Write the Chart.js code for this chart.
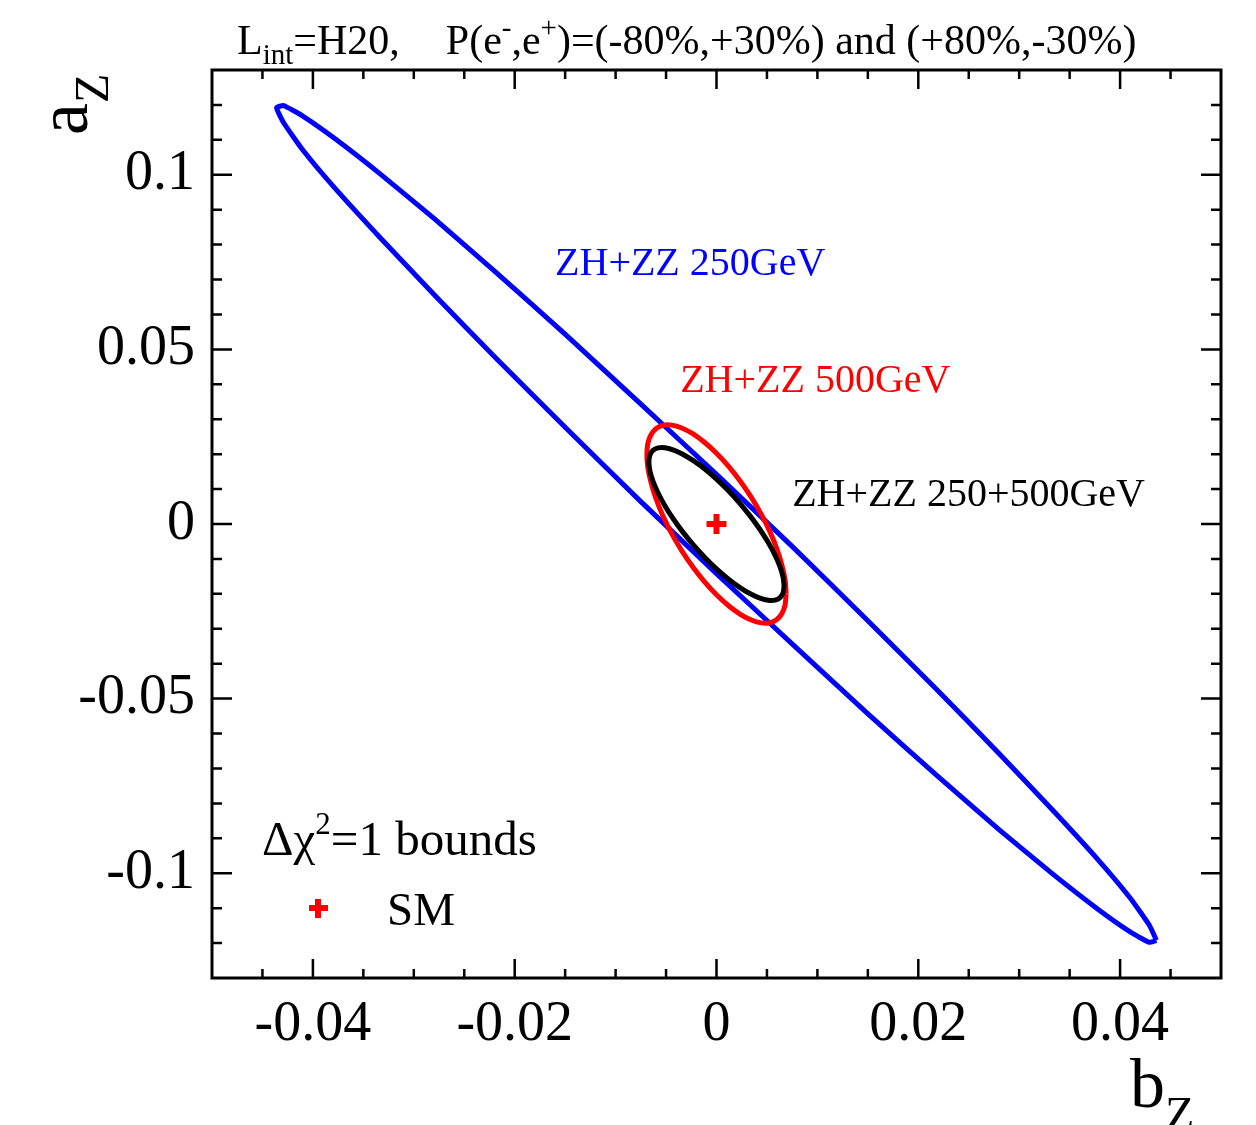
<!DOCTYPE html>
<html>
<head>
<meta charset="utf-8">
<script src="https://cdn.jsdelivr.net/npm/chart.js@4.4.0/dist/chart.umd.min.js"></script>
<style>
html, body { margin: 0; padding: 0; background: #fff; }
#wrap { width: 1256px; height: 1125px; position: relative; }
</style>
</head>
<body>
<div id="wrap"><canvas id="chart" width="1256" height="1125"></canvas></div>
<script>
// contour points (b_Z, a_Z)
const blueB = [0.0436, 0.0429, 0.0410, 0.0378, 0.0334, 0.0280, 0.0218, 0.0149, 0.0076, 0, -0.0076, -0.0149, -0.0218, -0.0280, -0.0334, -0.0378, -0.0410, -0.0429, -0.0436, -0.0429, -0.0410, -0.0378, -0.0334, -0.0280, -0.0218, -0.0149, -0.0076, 0, 0.0076, 0.0149, 0.0218, 0.0280, 0.0334, 0.0378, 0.0410, 0.0429, 0.0436];
const blueA = [-0.1192, -0.1149, -0.1071, -0.0961, -0.0822, -0.0657, -0.0473, -0.0274, -0.0067, 0.0142, 0.0346, 0.0541, 0.0719, 0.0875, 0.1004, 0.1103, 0.1168, 0.1198, 0.1192, 0.1149, 0.1071, 0.0961, 0.0822, 0.0657, 0.0473, 0.0274, 0.0067, -0.0142, -0.0346, -0.0541, -0.0719, -0.0875, -0.1004, -0.1103, -0.1168, -0.1198, -0.1192];

const redB = [0.0069, 0.0068, 0.00648, 0.00598, 0.00529, 0.00444, 0.00345, 0.00236, 0.0012, 0, -0.0012, -0.00236, -0.00345, -0.00444, -0.00529, -0.00598, -0.00648, -0.0068, -0.0069, -0.0068, -0.00648, -0.00598, -0.00529, -0.00444, -0.00345, -0.00236, -0.0012, 0, 0.0012, 0.00236, 0.00345, 0.00444, 0.00529, 0.00598, 0.00648, 0.0068, 0.0069];
const redA = [-0.01988, -0.01606, -0.01175, -0.00708, -0.00219, 0.00276, 0.00762, 0.01226, 0.01652, 0.02028, 0.02342, 0.02586, 0.0275, 0.02831, 0.02826, 0.02736, 0.02562, 0.0231, 0.01988, 0.01606, 0.01175, 0.00708, 0.00219, -0.00276, -0.00762, -0.01226, -0.01652, -0.02028, -0.02342, -0.02586, -0.0275, -0.02831, -0.02826, -0.02736, -0.02562, -0.0231, -0.01988];

const blackB = [0.0067, 0.0066, 0.0063, 0.0058, 0.00513, 0.00431, 0.00335, 0.00229, 0.00116, 0, -0.00116, -0.00229, -0.00335, -0.00431, -0.00513, -0.0058, -0.0063, -0.0066, -0.0067, -0.0066, -0.0063, -0.0058, -0.00513, -0.00431, -0.00335, -0.00229, -0.00116, 0, 0.00116, 0.00229, 0.00335, 0.00431, 0.00513, 0.0058, 0.0063, 0.0066, 0.0067];
const blackA = [-0.01774, -0.01524, -0.01228, -0.00894, -0.00533, -0.00157, 0.00225, 0.006, 0.00957, 0.01284, 0.01573, 0.01813, 0.01999, 0.02124, 0.02184, 0.02178, 0.02106, 0.0197, 0.01774, 0.01524, 0.01228, 0.00894, 0.00533, 0.00157, -0.00225, -0.006, -0.00957, -0.01284, -0.01573, -0.01813, -0.01999, -0.02124, -0.02184, -0.02178, -0.02106, -0.0197, -0.01774];

const smPoint = [{ x: 0, y: 0 }];

const xTickValues = [-0.04, -0.02, 0, 0.02, 0.04];
const xTickLabels = ['-0.04', '-0.02', '0', '0.02', '0.04'];
const yTickValues = [-0.1, -0.05, 0, 0.05, 0.1];
const yTickLabels = ['-0.1', '-0.05', '0', '0.05', '0.1'];

// in-plot labels: text, colour, b_Z, a_Z of left baseline
const curveLabels = ['ZH+ZZ 250GeV', 'ZH+ZZ 500GeV', 'ZH+ZZ 250+500GeV'];
const curveColors = ['#0000ff', '#ff0000', '#000000'];
const labelB = [-0.0160, -0.0036, 0.0075];
const labelA = [0.0712, 0.0378, 0.0052];

const SERIF = '"Liberation Serif", "Times New Roman", serif';

function toPoints(bs, as) {
    return bs.map((b, i) => ({ x: b, y: as[i] }));
}

// draws a row of text pieces with sub/superscripts
function drawRich(ctx, parts, x, y) {
    let cx = x;
    parts.forEach(p => {
        ctx.font = p.size + 'px ' + SERIF;
        ctx.fillText(p.t, cx, y + (p.dy || 0));
        cx += ctx.measureText(p.t).width + (p.gap || 0);
    });
}

const framePlugin = {
    id: 'frameTicks',
    afterDatasetsDraw(chart) {
        const { ctx, chartArea: a } = chart;
        const x = chart.scales.x;
        const y = chart.scales.y;
        ctx.save();
        ctx.strokeStyle = '#000';
        ctx.lineWidth = 2.5;
        ctx.beginPath();
        for (let i = -9; i <= 9; i++) {
            const px = x.getPixelForValue(i * 0.005);
            const len = (i % 4 === 0) ? 19 : 9;
            ctx.moveTo(px, a.bottom); ctx.lineTo(px, a.bottom - len);
            ctx.moveTo(px, a.top); ctx.lineTo(px, a.top + len);
        }
        for (let j = -12; j <= 12; j++) {
            const py = y.getPixelForValue(j * 0.01);
            const len = (j % 5 === 0) ? 20 : 10;
            ctx.moveTo(a.left, py); ctx.lineTo(a.left + len, py);
            ctx.moveTo(a.right, py); ctx.lineTo(a.right - len, py);
        }
        ctx.stroke();
        ctx.lineWidth = 3;
        ctx.strokeRect(a.left, a.top, a.right - a.left, a.bottom - a.top);
        ctx.restore();
    },
    afterDraw(chart) {
        const ctx = chart.ctx;
        const x = chart.scales.x;
        const y = chart.scales.y;
        ctx.save();
        ctx.textBaseline = 'alphabetic';
        ctx.textAlign = 'left';
        ctx.fillStyle = '#000';

        // header
        drawRich(ctx, [
            { t: 'L', size: 42 },
            { t: 'int', size: 29, dy: 10 },
            { t: '=H20,', size: 42, gap: 46 },
            { t: 'P(e', size: 42 },
            { t: '-', size: 29, dy: -17 },
            { t: ',e', size: 42 },
            { t: '+', size: 29, dy: -17 },
            { t: ')=(-80%,+30%) and (+80%,-30%)', size: 42 }
        ], 237, 54);

        // curve labels
        curveLabels.forEach((t, i) => {
            ctx.fillStyle = curveColors[i];
            ctx.font = '40px ' + SERIF;
            ctx.fillText(t, x.getPixelForValue(labelB[i]), y.getPixelForValue(labelA[i]));
        });

        // legend
        ctx.fillStyle = '#000';
        drawRich(ctx, [
            { t: '\u0394\u03c7', size: 49 },
            { t: '2', size: 31, dy: -21 },
            { t: '=1 bounds', size: 49 }
        ], 262, 855);
        ctx.font = '47px ' + SERIF;
        ctx.fillText('SM', 387, 925);
        ctx.fillStyle = '#ff0000';
        ctx.fillRect(309, 905, 19, 6);
        ctx.fillRect(315, 899, 6, 19);

        // axis titles
        ctx.fillStyle = '#000';
        ctx.font = '70px ' + SERIF;
        ctx.fillText('b', 1130, 1107);
        const bw = ctx.measureText('b').width;
        ctx.font = '48px ' + SERIF;
        ctx.fillText('Z', 1130 + bw, 1130);

        ctx.save();
        ctx.translate(87, 135);
        ctx.rotate(-Math.PI / 2);
        ctx.font = '72px ' + SERIF;
        ctx.fillText('a', 0, 0);
        const aw = ctx.measureText('a').width;
        ctx.font = '48px ' + SERIF;
        ctx.fillText('Z', aw, 21);
        ctx.restore();

        ctx.restore();
    }
};

const chart = new Chart(document.getElementById('chart'), {
    type: 'scatter',
    data: {
        datasets: [
            {
                label: 'SM',
                data: smPoint,
                pointStyle: 'cross',
                pointRadius: 10,
                pointBorderWidth: 6,
                borderColor: '#ff0000',
                backgroundColor: '#ff0000',
                order: 0
            },
            {
                label: 'ZH+ZZ 250+500GeV',
                data: toPoints(blackB, blackA),
                showLine: true,
                borderColor: '#000000',
                borderWidth: 5,
                pointRadius: 0,
                tension: 0.3,
                order: 1
            },
            {
                label: 'ZH+ZZ 500GeV',
                data: toPoints(redB, redA),
                showLine: true,
                borderColor: '#ff0000',
                borderWidth: 5,
                pointRadius: 0,
                tension: 0.3,
                order: 2
            },
            {
                label: 'ZH+ZZ 250GeV',
                data: toPoints(blueB, blueA),
                showLine: true,
                borderColor: '#0000ff',
                borderWidth: 5,
                pointRadius: 0,
                tension: 0.15,
                order: 3
            }
        ]
    },
    options: {
        responsive: false,
        animation: false,
        layout: {
            padding: { left: 0, top: 70, right: 35, bottom: 0 }
        },
        plugins: {
            legend: { display: false },
            tooltip: { enabled: false }
        },
        scales: {
            x: {
                type: 'linear',
                min: -0.05,
                max: 0.05,
                grid: { display: false, drawTicks: false },
                border: { display: false },
                afterBuildTicks: scale => {
                    scale.ticks = xTickValues.map(v => ({ value: v }));
                },
                afterFit: scale => {
                    scale.height = 147;
                },
                ticks: {
                    padding: 14,
                    color: '#000',
                    font: { family: SERIF, size: 56 },
                    maxRotation: 0,
                    autoSkip: false,
                    callback: (v, i) => xTickLabels[i]
                }
            },
            y: {
                type: 'linear',
                min: -0.13,
                max: 0.13,
                grid: { display: false, drawTicks: false },
                border: { display: false },
                afterBuildTicks: scale => {
                    scale.ticks = yTickValues.map(v => ({ value: v }));
                },
                afterFit: scale => {
                    scale.width = 212;
                },
                ticks: {
                    padding: 17,
                    color: '#000',
                    font: { family: SERIF, size: 56 },
                    autoSkip: false,
                    callback: (v, i) => yTickLabels[i]
                }
            }
        }
    },
    plugins: [framePlugin]
});
</script>
</body>
</html>
